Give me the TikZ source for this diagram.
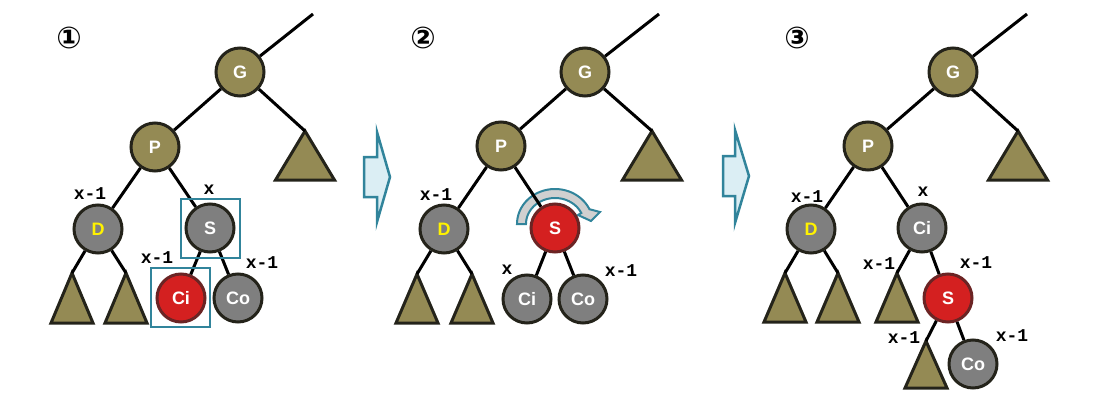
\documentclass[tikz,border=0pt]{standalone}
\usepackage{fontspec}
\setmainfont{Liberation Sans}
\newfontfamily\lblfont{Liberation Mono}
\newfontfamily\numfont{DejaVu Sans}
\definecolor{olive}{HTML}{948A54}
\definecolor{darkb}{HTML}{24231A}
\definecolor{gcirc}{HTML}{7F7F7F}
\definecolor{rcirc}{HTML}{D42020}
\definecolor{rbord}{HTML}{6B2424}
\definecolor{teal}{HTML}{31849B}
\definecolor{lteal}{HTML}{DBEEF4}
\definecolor{lgray}{HTML}{D0D0D0}
\tikzset{
  tn/.style={circle, minimum size=48pt, inner sep=0pt, line width=3pt, draw=darkb,
    text=white, font=\fontsize{18}{18}\selectfont\bfseries},
  onode/.style={tn, fill=olive},
  gnode/.style={tn, fill=gcirc},
  rnode/.style={tn, fill=rcirc, draw=rbord},
  edge/.style={line width=3pt, draw=black},
  tri/.style={line width=3pt, draw=darkb, fill=olive, line join=miter},
  lbl/.style={font=\lblfont\fontsize{18}{18}\selectfont\bfseries, inner sep=0pt},
  num/.style={font=\numfont\fontsize{30}{30}\selectfont\bfseries, inner sep=0pt},
  selbox/.style={draw=teal, line width=2.5pt, minimum size=59pt, inner sep=0pt},
  bigarrow/.style={draw=teal, fill=lteal, line width=2.5pt, line join=miter},
  rotarrow/.style={draw=teal, fill=lgray, line width=2pt, line join=miter},
}
\begin{document}
\begin{tikzpicture}[x=1pt,y=-1pt]
\useasboundingbox (0,0) rectangle (1100,420);

% ---------- Panel 1 ----------
\node[num] (n1) at (69,38) {①};
\node[onode] (G1) at (240,72) {G};
\node[onode] (P1) at (155,147) {P};
\node[gnode,text=yellow] (D1) at (98,229) {D};
\node[gnode] (S1) at (210,228) {S};
\node[rnode] (Ci1) at (181,298) {Ci};
\node[gnode] (Co1) at (238,298) {Co};
\coordinate (top1) at (313,14);
\coordinate (tG1) at (305,131);
\coordinate (tDa1) at (72,273);
\coordinate (tDb1) at (126,273);
\draw[tri] (tG1) -- ++(-29.5,49) -- ++(59,0) -- cycle;
\draw[tri] (tDa1) -- ++(-21,50) -- ++(42,0) -- cycle;
\draw[tri] (tDb1) -- ++(-21,50) -- ++(42,0) -- cycle;
\draw[edge] (G1) -- (top1);
\draw[edge] (G1) -- (P1);
\draw[edge] (G1) -- (tG1);
\draw[edge] (P1) -- (D1);
\draw[edge] (P1) -- (S1);
\draw[edge] (D1) -- (tDa1);
\draw[edge] (D1) -- (tDb1);
\draw[edge] (S1) -- (Ci1);
\draw[edge] (S1) -- (Co1);
\node[selbox] (bS1) at (210.5,228.5) {};
\node[selbox] (bCi1) at (180.5,297.5) {};
\node[lbl] (l11) at (90,194) {x-1};
\node[lbl] (l12) at (209,190) {x};
\node[lbl] (l13) at (157,258) {x-1};
\node[lbl] (l14) at (262,263) {x-1};

% ---------- Arrow 1 ----------
\draw[bigarrow] (364,157) -- (377,157) -- (377,132) -- (390,177) -- (377,222) -- (377,197) -- (364,197) -- cycle;

% ---------- Panel 2 ----------
\node[num] (n2) at (423,38) {②};
\draw[rotarrow] plot[domain=180:335,samples=40] ({555+38*cos(\x)},{224+35*sin(\x)})
  -- (600,212) -- (591,221) -- (578,215)
  -- plot[domain=335:180,samples=40] ({555+29*cos(\x)},{224+26*sin(\x)}) -- cycle;
\node[onode] (G2) at (585,72) {G};
\node[onode] (P2) at (501,146) {P};
\node[gnode,text=yellow] (D2) at (444,229) {D};
\node[rnode] (S2) at (555,228) {S};
\node[gnode] (Ci2) at (527,299) {Ci};
\node[gnode] (Co2) at (583,299) {Co};
\coordinate (top2) at (659,14);
\coordinate (tG2) at (652,131);
\coordinate (tDa2) at (417,274);
\coordinate (tDb2) at (472,274);
\draw[tri] (tG2) -- ++(-29.5,49) -- ++(59,0) -- cycle;
\draw[tri] (tDa2) -- ++(-21,49) -- ++(42,0) -- cycle;
\draw[tri] (tDb2) -- ++(-21,49) -- ++(42,0) -- cycle;
\draw[edge] (G2) -- (top2);
\draw[edge] (G2) -- (P2);
\draw[edge] (G2) -- (tG2);
\draw[edge] (P2) -- (D2);
\draw[edge] (P2) -- (S2);
\draw[edge] (D2) -- (tDa2);
\draw[edge] (D2) -- (tDb2);
\draw[edge] (S2) -- (Ci2);
\draw[edge] (S2) -- (Co2);
\node[lbl] (l21) at (436,195) {x-1};
\node[lbl] (l22) at (507,270) {x};
\node[lbl] (l23) at (621,271) {x-1};

% ---------- Arrow 2 ----------
\draw[bigarrow] (723,156) -- (735,156) -- (735,130) -- (749,176) -- (735,223) -- (735,196) -- (723,196) -- cycle;

% ---------- Panel 3 ----------
\node[num] (n3) at (797,38) {③};
\node[onode] (G3) at (953,72) {G};
\node[onode] (P3) at (868,146) {P};
\node[gnode,text=yellow] (D3) at (811,229) {D};
\node[gnode] (Ci3) at (922,228) {Ci};
\node[rnode] (S3) at (948,298) {S};
\node[gnode] (Co3) at (973,364) {Co};
\coordinate (top3) at (1027,14);
\coordinate (tG3) at (1018,131);
\coordinate (tDa3) at (785,273);
\coordinate (tDb3) at (838,273);
\coordinate (tC3) at (897,273);
\coordinate (tS3) at (926,341);
\draw[tri] (tG3) -- ++(-29.5,49) -- ++(59,0) -- cycle;
\draw[tri] (tDa3) -- ++(-21,49) -- ++(42,0) -- cycle;
\draw[tri] (tDb3) -- ++(-21,49) -- ++(42,0) -- cycle;
\draw[tri] (tC3) -- ++(-21,49) -- ++(42,0) -- cycle;
\draw[tri] (tS3) -- ++(-21,47) -- ++(42,0) -- cycle;
\draw[edge] (G3) -- (top3);
\draw[edge] (G3) -- (P3);
\draw[edge] (G3) -- (tG3);
\draw[edge] (P3) -- (D3);
\draw[edge] (P3) -- (Ci3);
\draw[edge] (D3) -- (tDa3);
\draw[edge] (D3) -- (tDb3);
\draw[edge] (Ci3) -- (tC3);
\draw[edge] (Ci3) -- (S3);
\draw[edge] (S3) -- (tS3);
\draw[edge] (S3) -- (Co3);
\node[lbl] (l31) at (807,197) {x-1};
\node[lbl] (l32) at (923,192) {x};
\node[lbl] (l33) at (879,264) {x-1};
\node[lbl] (l34) at (976,263) {x-1};
\node[lbl] (l35) at (904,338) {x-1};
\node[lbl] (l36) at (1012,336) {x-1};
\end{tikzpicture}
\end{document}
